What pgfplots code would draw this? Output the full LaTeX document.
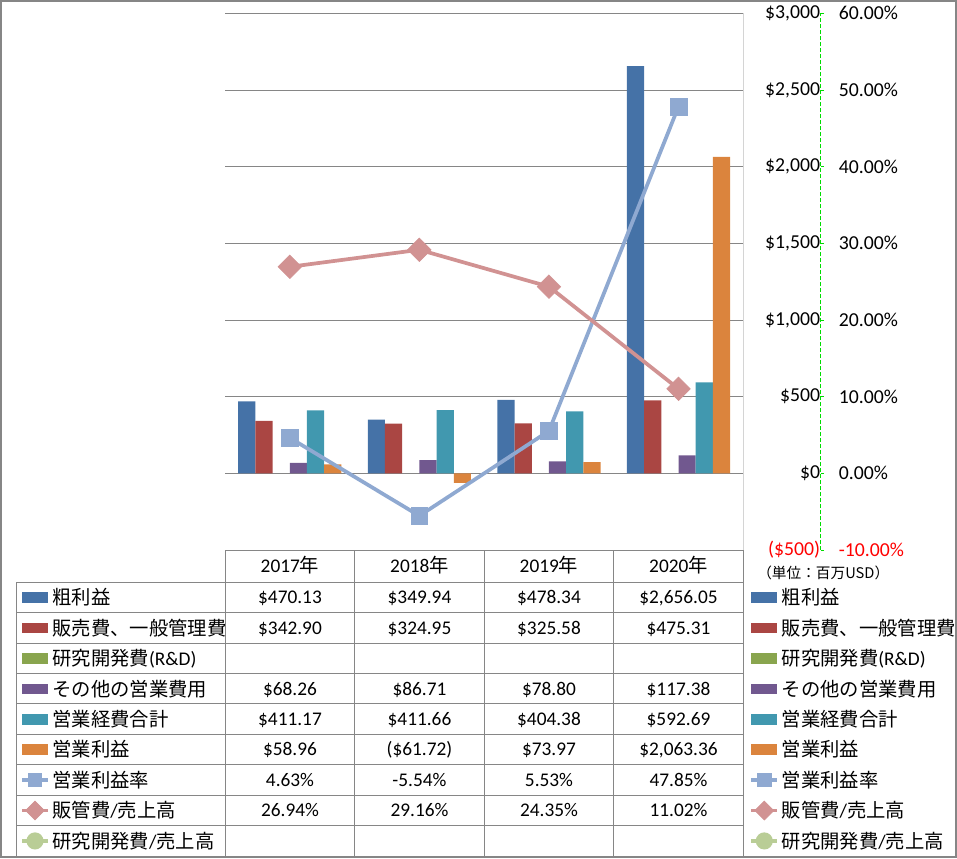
\documentclass[border=0pt]{standalone}
\usepackage{pgfplots}
\pgfplotsset{compat=1.18}
\usepackage{fontspec}
\setmainfont{Carlito}
\newfontfamily\cjk{Noto Sans CJK JP}

\definecolor{c1}{RGB}{69,114,167}
\definecolor{c2}{RGB}{170,70,67}
\definecolor{c3}{RGB}{137,165,78}
\definecolor{c4}{RGB}{113,88,143}
\definecolor{c5}{RGB}{65,152,175}
\definecolor{c6}{RGB}{219,132,61}
\definecolor{c7}{RGB}{143,169,209}
\definecolor{c8}{RGB}{209,146,146}
\definecolor{c9}{RGB}{185,205,150}
\definecolor{gridgray}{RGB}{134,134,134}
\definecolor{axgreen}{RGB}{0,220,0}
\definecolor{negred}{RGB}{255,0,0}

\pgfplotsset{
  barkey/.style={legend image code/.code={\fill[##1,draw=none] (0pt,-4pt) rectangle (19.3pt,4pt);}},
  linekey/.style={legend image code/.code={\draw[mark repeat=2,mark phase=2,##1,mark size=5pt] plot coordinates {(0pt,0pt)(9.65pt,0pt)(19.3pt,0pt)};}},
  rate/.style={c7, line width=2.8pt, mark=square*, mark size=6.3pt,
    mark options={solid, fill=c7, draw=c7, line width=0.5pt, rounded corners=1.5pt}},
  sga/.style={c8, line width=2.8pt, mark=square*, mark size=6.2pt,
    mark options={solid, rotate=45, fill=c8, draw=c8, line width=0.5pt, rounded corners=1.5pt}},
  rdr/.style={c9, line width=2.8pt, mark=*, mark size=6pt, mark options={solid, fill=c9}},
  keylegend/.style={legend cell align=left,
    legend style={draw=none, fill=none, inner sep=0pt, row sep=0pt, column sep=2pt,
      at={#1}, anchor=north west,
      nodes={inner sep=0pt, minimum height=22.8pt, font=\fontsize{14.5}{17}\selectfont}}},
  usdbar/.style={ybar, bar width=12.9pt, draw=none, fill=#1, barkey},
}

\newcommand{\cell}[3]{\node at ({290+129.5*#1},{597.5+30.41*#2}) {#3};}

\begin{document}
\begin{tikzpicture}[font=\fontsize{14.5}{17}\selectfont]
\begin{scope}[x=0.75pt,y=-0.75pt]
\useasboundingbox (0,0) rectangle (957,858);
\draw[gridgray, line width=1pt] (1,1) rectangle (956,857);
% data table grid
\draw[gridgray, line width=0.75pt] (225,550) -- (743.3,550);
\foreach \x in {225,354.5,484,613.5,743.3} \draw[gridgray, line width=0.75pt] (\x,550) -- (\x,857);
\draw[gridgray, line width=0.75pt] (16.7,582.3) -- (16.7,857);
\foreach \i in {0,...,8} \draw[gridgray, line width=0.75pt] (16.7,{582.3+30.41*\i}) -- (743.3,{582.3+30.41*\i});
\end{scope}

% primary axis: bars (USD millions)
\begin{axis}[
  at={(168.75pt,-10pt)}, anchor=north west,
  scale only axis, width=388.75pt, height=402.5pt,
  xmin=-0.5, xmax=3.5, ymin=-500, ymax=3000,
  xtick=\empty,
  ytick={-500,0,500,1000,1500,2000,2500,3000},
  yticklabels={{\textcolor{negred}{(\$500)}},{\$0},{\$500},{\$1,000},{\$1,500},{\$2,000},{\$2,500},{\$3,000}},
  yticklabel pos=right,
  yticklabel style={anchor=east, inner sep=0pt, xshift=57.75pt, font=\fontsize{14.8}{17}\selectfont},
  ymajorgrids, grid style={gridgray, line width=0.75pt},
  major tick length=0pt,
  axis line style={draw=none},
  keylegend={(-0.3955,-0.0601)},
]
\addplot[usdbar=c1, bar shift=-32.25pt] coordinates {(0,470.13)(1,349.94)(2,478.34)(3,2656.05)};
\addlegendentry{{\cjk 粗利益}}
\addplot[usdbar=c2, bar shift=-19.35pt] coordinates {(0,342.90)(1,324.95)(2,325.58)(3,475.31)};
\addlegendentry{{\cjk 販売費、一般管理費}}
\addlegendimage{barkey, fill=c3}
\addlegendentry{{\cjk 研究開発費}(R\&D)}
\addplot[usdbar=c4, bar shift=6.45pt] coordinates {(0,68.26)(1,86.71)(2,78.80)(3,117.38)};
\addlegendentry{{\cjk その他の営業費用}}
\addplot[usdbar=c5, bar shift=19.35pt] coordinates {(0,411.17)(1,411.66)(2,404.38)(3,592.69)};
\addlegendentry{{\cjk 営業経費合計}}
\addplot[usdbar=c6, bar shift=32.25pt] coordinates {(0,58.96)(1,-61.72)(2,73.97)(3,2063.36)};
\addlegendentry{{\cjk 営業利益}}
\addlegendimage{linekey, rate}
\addlegendentry{{\cjk 営業利益率}}
\addlegendimage{linekey, sga}
\addlegendentry{{\cjk 販管費}/{\cjk 売上高}}
\addlegendimage{linekey, rdr}
\addlegendentry{{\cjk 研究開発費}/{\cjk 売上高}}
\draw[gridgray, line width=0.75pt] (rel axis cs:1,0) -- (rel axis cs:1,1);
\end{axis}

% secondary axis: ratios (%)
\begin{axis}[
  at={(168.75pt,-10pt)}, anchor=north west,
  scale only axis, width=446.75pt, height=402.5pt,
  xmin=-0.5, xmax=4.097, ymin=-10, ymax=60,
  axis x line=none, axis y line*=right,
  y axis line style={-, axgreen, line width=0.75pt, dash pattern=on 3pt off 1.5pt},
  ytick={-10,0,10,20,30,40,50,60},
  yticklabels={{\textcolor{negred}{-10.00\%}},{0.00\%},{10.00\%},{20.00\%},{30.00\%},{40.00\%},{50.00\%},{60.00\%}},
  ytick style={axgreen, line width=0.75pt},
  tick align=outside, major tick length=2.5pt,
  yticklabel style={anchor=west, inner sep=0pt, xshift=11pt, font=\fontsize{14.8}{17}\selectfont},
  clip=false,
  keylegend={(0.8802,-0.0601)},
]
\addlegendimage{barkey, fill=c1}
\addlegendentry{{\cjk 粗利益}}
\addlegendimage{barkey, fill=c2}
\addlegendentry{{\cjk 販売費、一般管理費}}
\addlegendimage{barkey, fill=c3}
\addlegendentry{{\cjk 研究開発費}(R\&D)}
\addlegendimage{barkey, fill=c4}
\addlegendentry{{\cjk その他の営業費用}}
\addlegendimage{barkey, fill=c5}
\addlegendentry{{\cjk 営業経費合計}}
\addlegendimage{barkey, fill=c6}
\addlegendentry{{\cjk 営業利益}}
\addplot[rate, linekey] coordinates {(0,4.63)(1,-5.54)(2,5.53)(3,47.85)};
\addlegendentry{{\cjk 営業利益率}}
\addplot[sga, linekey] coordinates {(0,26.94)(1,29.16)(2,24.35)(3,11.02)};
\addlegendentry{{\cjk 販管費}/{\cjk 売上高}}
\addlegendimage{linekey, rdr}
\addlegendentry{{\cjk 研究開発費}/{\cjk 売上高}}
\end{axis}

\begin{scope}[x=0.75pt,y=-0.75pt, every node/.style={inner sep=0pt, text height=9.5pt, text depth=0pt}]
\foreach \c/\t in {0/2017,1/2018,2/2019,3/2020} \node at ({290+129.5*\c},566) {\t{\cjk 年}};
\cell{0}{0}{\$470.13} \cell{1}{0}{\$349.94} \cell{2}{0}{\$478.34} \cell{3}{0}{\$2,656.05}
\cell{0}{1}{\$342.90} \cell{1}{1}{\$324.95} \cell{2}{1}{\$325.58} \cell{3}{1}{\$475.31}
\cell{0}{3}{\$68.26} \cell{1}{3}{\$86.71} \cell{2}{3}{\$78.80} \cell{3}{3}{\$117.38}
\cell{0}{4}{\$411.17} \cell{1}{4}{\$411.66} \cell{2}{4}{\$404.38} \cell{3}{4}{\$592.69}
\cell{0}{5}{\$58.96} \cell{1}{5}{(\$61.72)} \cell{2}{5}{\$73.97} \cell{3}{5}{\$2,063.36}
\cell{0}{6}{4.63\%} \cell{1}{6}{-5.54\%} \cell{2}{6}{5.53\%} \cell{3}{6}{47.85\%}
\cell{0}{7}{26.94\%} \cell{1}{7}{29.16\%} \cell{2}{7}{24.35\%} \cell{3}{7}{11.02\%}
\node[anchor=west, font=\cjk\fontsize{11}{13}\selectfont] at (757,572) {（単位：百万USD）};
\end{scope}
\end{tikzpicture}
\end{document}
